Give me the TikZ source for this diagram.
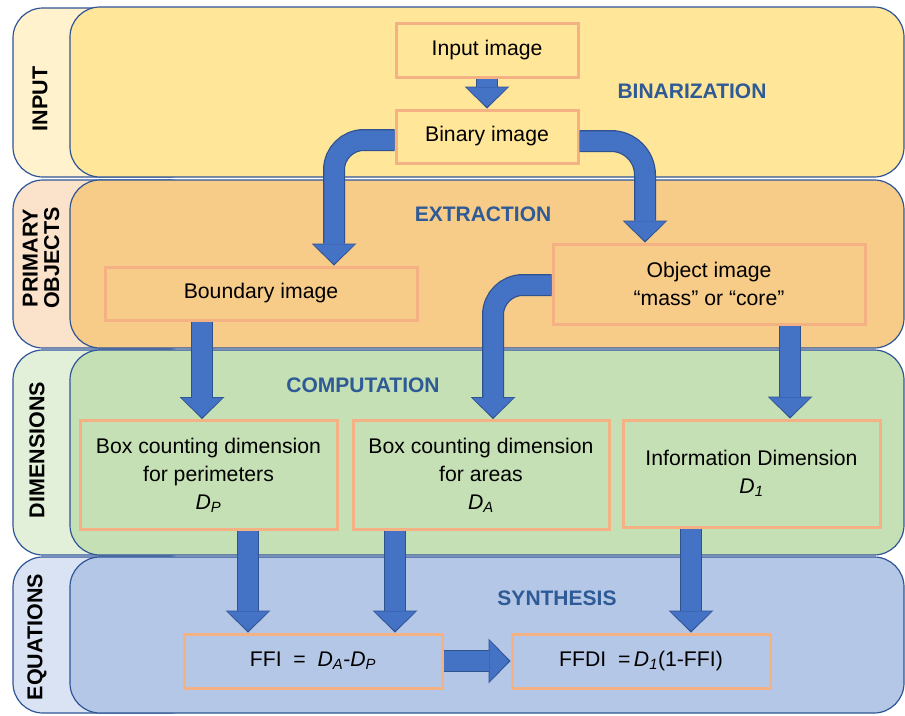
\documentclass[tikz,border=0pt]{standalone}
\usepackage{fontspec}
\setmainfont{Liberation Sans}
\usetikzlibrary{arrows.meta,calc}

\definecolor{bandA}{HTML}{FFE699}
\definecolor{stripA}{HTML}{FFF2CC}
\definecolor{bandB}{HTML}{F7CB88}
\definecolor{stripB}{HTML}{FAE2CB}
\definecolor{bandC}{HTML}{C5E0B4}
\definecolor{stripC}{HTML}{E2F0D9}
\definecolor{bandD}{HTML}{B4C7E7}
\definecolor{stripD}{HTML}{DAE3F3}
\definecolor{bandline}{HTML}{2F5597}
\definecolor{boxline}{HTML}{F4B183}
\definecolor{arrowfill}{HTML}{4472C4}
\definecolor{arrowedge}{HTML}{2F528F}
\definecolor{titleblue}{HTML}{2E5A96}

% italic D with an italic subscript
\newcommand\Dsub[1]{\textit{D}\textsubscript{\textit{#1}}}

\tikzset{
  bandbox/.style={draw=bandline, line width=1.2pt, rounded corners=30pt},
  stepbox/.style={draw=boxline, line width=3pt, inner sep=0pt, align=center,
    font=\fontsize{21.2}{28}\selectfont, text=black},
  bandtitle/.style={text=titleblue, font=\fontsize{21}{24}\selectfont\bfseries},
  sidelabel/.style={rotate=90, align=center, text=black,
    font=\fontsize{21.5}{21.5}\selectfont\bfseries},
  arrowback/.style={draw=arrowedge, line width=22pt,
    -{Triangle[width=45pt,length=22pt,line width=0pt]}},
  arrowfront/.style={draw=arrowfill, line width=19.5pt, shorten >=1.6pt,
    -{Triangle[width=41pt,length=19.5pt,line width=0pt]}},
}
% block arrow: dark edge underneath, blue body on top
\newcommand\fatarrow[2][]{\draw[arrowback,#1] #2; \draw[arrowfront,#1] #2;}

\begin{document}
\begin{tikzpicture}[x=1pt,y=-1pt]
\useasboundingbox (0,0) rectangle (905,715);

% ---- horizontal bands: label strip + main panel
\draw[bandbox, fill=stripA] (13,8) rectangle (200,177);
\draw[bandbox, fill=bandA]  (70,7) rectangle (904,177);
\draw[bandbox, fill=stripB] (13,180) rectangle (200,348);
\draw[bandbox, fill=bandB]  (70,180) rectangle (904,348);
\draw[bandbox, fill=stripC] (13,350) rectangle (200,555);
\draw[bandbox, fill=bandC]  (70,350) rectangle (904,555);
\draw[bandbox, fill=stripD] (13,557) rectangle (200,713);
\draw[bandbox, fill=bandD]  (70,557) rectangle (904,713);

% ---- side labels
\node[sidelabel] (lblin)  at (40,99)  {INPUT};
\node[sidelabel] (lblobj) at (41,258) {PRIMARY\\OBJECTS};
\node[sidelabel] (lbldim) at (37,450) {DIMENSIONS};
\node[sidelabel] (lbleq)  at (37,637) {EQUATIONS};

% ---- stage titles
\node[bandtitle] (tbin) at (692,91)  {BINARIZATION};
\node[bandtitle] (text) at (483,214) {EXTRACTION};
\node[bandtitle] (tcmp) at (363,385) {COMPUTATION};
\node[bandtitle] (tsyn) at (557,598) {SYNTHESIS};

% ---- process boxes
\node[stepbox, minimum width=182pt, minimum height=54pt] (in)  at (487,50)    {Input image};
\node[stepbox, minimum width=182pt, minimum height=53pt] (bin) at (487,136.5) {Binary image};
\node[stepbox, minimum width=312pt, minimum height=53pt] (bnd) at (261,293.5) {Boundary image};
\node[stepbox, minimum width=312pt, minimum height=80pt] (obj) at (709,284)   {Object image\\“mass” or “core”};
\node[stepbox, minimum width=257pt, minimum height=109pt] (bcp) at (208.5,475) {Box counting dimension\\for perimeters\\\Dsub{P}};
\node[stepbox, minimum width=256pt, minimum height=109pt] (bca) at (481,475)   {Box counting dimension\\for areas\\\Dsub{A}};
\node[stepbox, minimum width=257pt, minimum height=107pt] (inf) at (751.5,473.5) {Information Dimension\\\Dsub{1}};
\node[stepbox, minimum width=258pt, minimum height=54pt] (ffi)  at (313,661) {FFI~~=~~\Dsub{A}-\Dsub{P}};
\node[stepbox, minimum width=258pt, minimum height=54pt] (ffdi) at (641,661) {FFDI~~=\,\Dsub{1}(1-FFI)};

% ---- connectors
\fatarrow{(in.south) -- (bin.north)}
\fatarrow[rounded corners=30pt]{(0,140 -| bin.west) -| (334,0 |- bnd.north)}
\fatarrow[rounded corners=34pt]{(0,141 -| bin.east) -| (645,0 |- obj.north)}
\fatarrow{(202,0 |- bnd.south) -- (202,0 |- bcp.north)}
\fatarrow[rounded corners=30pt]{(0,285 -| obj.west) -| (493,0 |- bca.north)}
\fatarrow{(790,0 |- obj.south) -- (790,0 |- inf.north)}
\fatarrow{(248,0 |- bcp.south) -- (248,0 |- ffi.north)}
\fatarrow{(395,0 |- bca.south) -- (395,0 |- ffi.north)}
\fatarrow{(691,0 |- inf.south) -- (691,0 |- ffdi.north)}
\fatarrow{(ffi.east) -- (ffdi.west)}
\end{tikzpicture}
\end{document}
